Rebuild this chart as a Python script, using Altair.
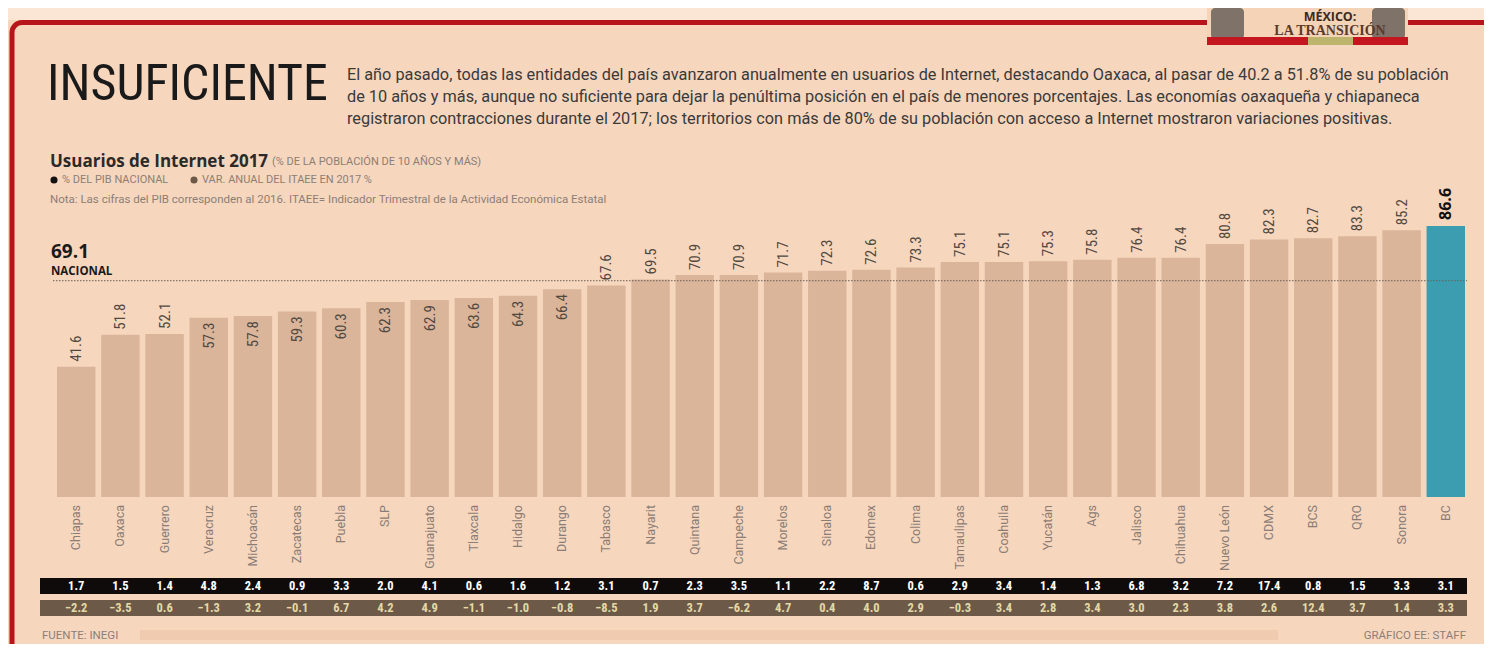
import altair as alt
import pandas as pd

# ---------------- data ----------------
estados = ["Chiapas", "Oaxaca", "Guerrero", "Veracruz", "Michoacán", "Zacatecas", "Puebla", "SLP",
           "Guanajuato", "Tlaxcala", "Hidalgo", "Durango", "Tabasco", "Nayarit", "Quintana", "Campeche",
           "Morelos", "Sinaloa", "Edomex", "Colima", "Tamaulipas", "Coahuila", "Yucatán", "Ags",
           "Jalisco", "Chihuahua", "Nuevo León", "CDMX", "BCS", "QRO", "Sonora", "BC"]
usuarios = [41.6, 51.8, 52.1, 57.3, 57.8, 59.3, 60.3, 62.3, 62.9, 63.6, 64.3, 66.4, 67.6, 69.5, 70.9, 70.9,
            71.7, 72.3, 72.6, 73.3, 75.1, 75.1, 75.3, 75.8, 76.4, 76.4, 80.8, 82.3, 82.7, 83.3, 85.2, 86.6]
pib = [1.7, 1.5, 1.4, 4.8, 2.4, 0.9, 3.3, 2.0, 4.1, 0.6, 1.6, 1.2, 3.1, 0.7, 2.3, 3.5,
       1.1, 2.2, 8.7, 0.6, 2.9, 3.4, 1.4, 1.3, 6.8, 3.2, 7.2, 17.4, 0.8, 1.5, 3.3, 3.1]
itaee = [-2.2, -3.5, 0.6, -1.3, 3.2, -0.1, 6.7, 4.2, 4.9, -1.1, -1.0, -0.8, -8.5, 1.9, 3.7, -6.2,
         4.7, 0.4, 4.0, 2.9, -0.3, 3.4, 2.8, 3.4, 3.0, 2.3, 3.8, 2.6, 12.4, 3.7, 1.4, 3.3]
nacional = 69.1
destacado = "BC"

titulo = "INSUFICIENTE"
parrafo = [
    "El año pasado, todas las entidades del país avanzaron anualmente en usuarios de Internet, destacando Oaxaca, al pasar de 40.2 a 51.8% de su población",
    "de 10 años y más, aunque no suficiente para dejar la penúltima posición en el país de menores porcentajes. Las economías oaxaqueña y chiapaneca",
    "registraron contracciones durante el 2017; los territorios con más de 80% de su población con acceso a Internet mostraron variaciones positivas.",
]
subtitulo = "Usuarios de Internet 2017"
unidad = "(% DE LA POBLACIÓN DE 10 AÑOS Y MÁS)"
leyenda1 = "% DEL PIB NACIONAL"
leyenda2 = "VAR. ANUAL DEL ITAEE EN 2017 %"
nota = "Nota: Las cifras del PIB corresponden al 2016. ITAEE= Indicador Trimestral de la Actividad Económica Estatal"
fuente = "FUENTE: INEGI"
credito = "GRÁFICO EE: STAFF"

# ---------------- styles ----------------
BG = "#F7D6BE"
BAR = "#DAB59A"
TEAL = "#3C9DB0"
RED = "#B8141C"
DARK = "#6C5948"
GREY = "#8C7E76"
NARROW = "Liberation Sans Narrow, Roboto Condensed, Roboto, sans-serif"
ROBOTO = "Roboto, Open Sans, sans-serif"
SANS = "Open Sans, Lato, sans-serif"

df = pd.DataFrame({"estado": estados, "usuarios": usuarios, "pib": pib, "itaee": itaee})
one = pd.DataFrame({"k": [0]})

W, H = 1476, 636

xenc = alt.X("estado:N", sort=estados, axis=None,
             scale=alt.Scale(range=[49, 1457], paddingInner=0.13, paddingOuter=0))
yscale = alt.Scale(domain=[0, 100], range=[489, 176])
yenc = alt.Y("usuarios:Q", axis=None, scale=yscale)

base = alt.Chart(df)

# frame pieces
top_light = alt.Chart(one).mark_rect(color="#FBE6D6").encode(
    x=alt.value(0), x2=alt.value(W), y=alt.value(0), y2=alt.value(12))
frame = alt.Chart(one).mark_rect(fill=None, stroke=RED, strokeWidth=5, cornerRadius=10, clip=True).encode(
    x=alt.value(4), x2=alt.value(W + 40), y=alt.value(14.5), y2=alt.value(H + 40))

# badge
badge_bg = alt.Chart(one).mark_rect(color="#F4D3B6").encode(
    x=alt.value(1199), x2=alt.value(1400), y=alt.value(0), y2=alt.value(37))
badge_l = alt.Chart(one).mark_rect(color="#7E7269", cornerRadius=4).encode(
    x=alt.value(1203), x2=alt.value(1236), y=alt.value(0), y2=alt.value(31))
badge_r = alt.Chart(one).mark_rect(color="#7E7269", cornerRadius=4).encode(
    x=alt.value(1364), x2=alt.value(1397), y=alt.value(0), y2=alt.value(31))
badge_red = alt.Chart(one).mark_rect(color="#C3161E").encode(
    x=alt.value(1199), x2=alt.value(1400), y=alt.value(29), y2=alt.value(37))
badge_mid = alt.Chart(one).mark_rect(color="#BDB56E").encode(
    x=alt.value(1300), x2=alt.value(1345), y=alt.value(29), y2=alt.value(37))
badge_t1 = alt.Chart(one).mark_text(text="MÉXICO:", font=SANS, fontWeight="bold", fontSize=12.5,
                                     color="#3B2A22", align="center", baseline="middle").encode(
    x=alt.value(1322), y=alt.value(9))
badge_t2 = alt.Chart(one).mark_text(text="LA TRANSICIÓN", font="Liberation Serif, DejaVu Serif, serif",
                                     fontWeight="bold", fontSize=14, color="#5A3A2C",
                                     align="center", baseline="middle").encode(
    x=alt.value(1322), y=alt.value(23))

# header texts
t_title = alt.Chart(one).mark_text(text=titulo, font=NARROW, fontSize=50, color="#1A1A1A",
                                    align="left", baseline="alphabetic").encode(
    x=alt.value(39), y=alt.value(92))
t_par = alt.Chart(one).mark_text(text=parrafo, font=ROBOTO, fontSize=16.3, lineHeight=22, color="#3A3A3A",
                                  align="left", baseline="middle").encode(
    x=alt.value(339), y=alt.value(67))
t_sub = alt.Chart(one).mark_text(text=subtitulo, font=SANS, fontWeight="bold", fontSize=17, color="#2A2A2A",
                                  align="left", baseline="alphabetic").encode(
    x=alt.value(42), y=alt.value(159))
t_unit = alt.Chart(one).mark_text(text=unidad, font=ROBOTO, fontSize=11, color=GREY,
                                   align="left", baseline="alphabetic").encode(
    x=alt.value(264), y=alt.value(157))
dot1 = alt.Chart(one).mark_point(filled=True, size=50, color="#111111", opacity=1).encode(
    x=alt.value(46), y=alt.value(172))
dot2 = alt.Chart(one).mark_point(filled=True, size=50, color=DARK, opacity=1).encode(
    x=alt.value(186), y=alt.value(172))
t_l1 = alt.Chart(one).mark_text(text=leyenda1, font=ROBOTO, fontSize=11, color=GREY,
                                 align="left", baseline="middle").encode(x=alt.value(54), y=alt.value(172))
t_l2 = alt.Chart(one).mark_text(text=leyenda2, font=ROBOTO, fontSize=11, color=GREY,
                                 align="left", baseline="middle").encode(x=alt.value(194), y=alt.value(172))
t_nota = alt.Chart(one).mark_text(text=nota, font=ROBOTO, fontSize=11.5, color=GREY,
                                   align="left", baseline="middle").encode(x=alt.value(42), y=alt.value(192))

# national reference
t_nac1 = alt.Chart(one).mark_text(text=f"{nacional}", font=SANS, fontWeight="bold", fontSize=19,
                                   color="#1A1A1A", align="left", baseline="alphabetic").encode(
    x=alt.value(43), y=alt.value(250))
t_nac2 = alt.Chart(one).mark_text(text="NACIONAL", font=SANS, fontWeight="bold", fontSize=11.5,
                                   color="#1A1A1A", align="left", baseline="alphabetic").encode(
    x=alt.value(43), y=alt.value(267))

# bars
bars = base.mark_bar().encode(
    x=xenc, y=yenc,
    color=alt.condition(alt.datum.estado == destacado, alt.value(TEAL), alt.value(BAR)),
)
nac_line = alt.Chart(pd.DataFrame({"nacional": [nacional]})).mark_rule(
    color="#6A6058", strokeDash=[1.5, 1.5], strokeWidth=1.2, opacity=0.8).encode(
    y=alt.Y("nacional:Q", scale=yscale, axis=None),
    x=alt.value(45), x2=alt.value(1459))

inside = "datum.usuarios >= 57 && datum.usuarios < 67"
lab_out = base.transform_filter(f"!({inside}) && datum.estado != '{destacado}'").mark_text(
    angle=270, align="left", baseline="middle", dx=5, font=NARROW, fontSize=15, color="#514840").encode(
    x=xenc, y=yenc, text=alt.Text("usuarios:Q", format=".1f"))
lab_in = base.transform_filter(inside).mark_text(
    angle=270, align="right", baseline="middle", dx=-5, font=NARROW, fontSize=15, color="#514840").encode(
    x=xenc, y=yenc, text=alt.Text("usuarios:Q", format=".1f"))
lab_hi = base.transform_filter(f"datum.estado == '{destacado}'").mark_text(
    angle=270, align="left", baseline="middle", dx=6, font=SANS, fontWeight="bold", fontSize=16,
    color="#111111").encode(x=xenc, y=yenc, text=alt.Text("usuarios:Q", format=".1f"))

# state names
names = base.mark_text(angle=270, align="right", baseline="middle", font=ROBOTO, fontSize=12.5,
                       color="#8A7D75").encode(x=xenc, y=alt.value(497), text="estado:N")

# bottom bands
band1 = alt.Chart(one).mark_rect(color="#0E0B0A").encode(
    x=alt.value(32), x2=alt.value(1459), y=alt.value(570), y2=alt.value(586))
band2 = alt.Chart(one).mark_rect(color=DARK).encode(
    x=alt.value(32), x2=alt.value(1459), y=alt.value(592), y2=alt.value(608))
row1 = base.mark_text(font=NARROW, fontWeight="bold", fontSize=12.5, color="#FFFFFF",
                      baseline="middle").encode(x=xenc, y=alt.value(578), text=alt.Text("pib:Q", format=".1f"))
row2 = base.mark_text(font=NARROW, fontWeight="bold", fontSize=12.5, color="#E4D9A6",
                      baseline="middle").encode(x=xenc, y=alt.value(600), text=alt.Text("itaee:Q", format=".1f"))

shadow = alt.Chart(one).mark_rect(color="#F0CBAF").encode(
    x=alt.value(132), x2=alt.value(1270), y=alt.value(622), y2=alt.value(632))
t_fuente = alt.Chart(one).mark_text(text=fuente, font=ROBOTO, fontSize=11.5, color=GREY,
                                     align="left", baseline="middle").encode(x=alt.value(34), y=alt.value(628))
t_cred = alt.Chart(one).mark_text(text=credito, font=ROBOTO, fontSize=11.5, color=GREY,
                                   align="right", baseline="middle").encode(x=alt.value(1458), y=alt.value(628))

chart = alt.layer(
    top_light, frame,
    badge_bg, badge_l, badge_r, badge_red, badge_mid, badge_t1, badge_t2,
    t_title, t_par, t_sub, t_unit, dot1, dot2, t_l1, t_l2, t_nota,
    bars, nac_line, lab_out, lab_in, lab_hi, t_nac1, t_nac2, names,
    band1, band2, row1, row2, shadow, t_fuente, t_cred,
).properties(
    width=W, height=H, background=BG, padding=0,
    autosize=alt.AutoSizeParams(type="none"),
).configure_view(stroke=None)

chart.save("out.html", embed_options={"renderer": "svg", "actions": False})
